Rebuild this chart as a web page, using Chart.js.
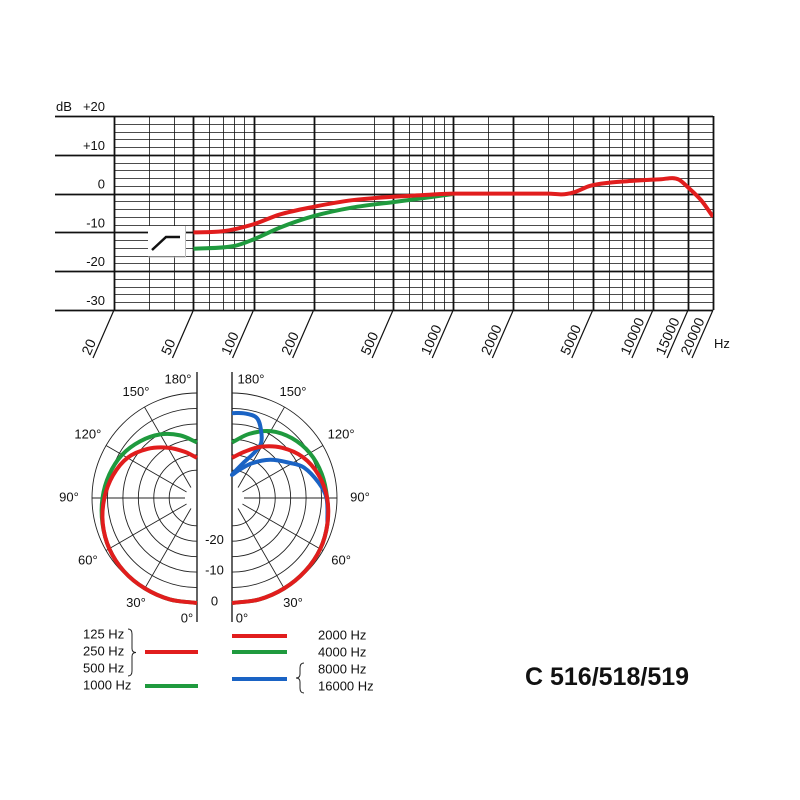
<!DOCTYPE html>
<html>
<head>
<meta charset="utf-8">
<script src="https://cdn.jsdelivr.net/npm/chart.js@4"></script>
<style>
  html, body { margin: 0; padding: 0; background: #fff; }
  #wrap { position: relative; width: 800px; height: 800px; }
  canvas { position: absolute; left: 0; }
</style>
</head>
<body>
<div id="wrap">
  <canvas id="freq" width="800" height="370" style="top:0"></canvas>
  <canvas id="polar" width="800" height="440" style="top:360px"></canvas>
</div>
<script>
// frequency response
const redHz = [50, 70, 100, 135, 200, 312, 500, 700, 1000, 2000, 3000, 3500, 4000, 4850, 6000, 8000, 10000, 11000, 12500, 13500, 15000, 17500, 20000];
const redDb = [-10, -9.7, -7.9, -5.4, -3.4, -1.7, -0.8, -0.4, 0, 0, 0, -0.2, 0.3, 2, 2.8, 3.3, 3.6, 3.7, 4, 3.6, 1.6, -1.8, -6];
const greenHz = [50, 80, 100, 135, 200, 312, 500, 700, 1000];
const greenDb = [-14.2, -13.5, -11.8, -8.8, -5.8, -3.6, -2.2, -1.2, -0.1];
const gridHz = [20, 30, 40, 50, 60, 70, 80, 90, 100, 200, 400, 500, 600, 700, 800, 900, 1000, 1500, 2000, 3000, 4000, 5000, 6000, 7000, 8000, 9000, 10000, 15000, 20000];
const labelHz = [20, 50, 100, 200, 500, 1000, 2000, 5000, 10000, 15000, 20000];
const dbTicks = ["+20", "+10", "0", "-10", "-20", "-30"];

// polar diagrams (angle from front, dB)
const polarDeg = [0, 15, 30, 45, 60, 75, 90, 105, 120, 135, 150, 165, 180];
const low125to500 = [0, 0, -0.2, -0.5, -1.2, -2.4, -4, -5.8, -8, -11.5, -15.2, -18.5, -21];
const low1000 = [0, 0, -0.2, -0.5, -1.2, -2.3, -3.4, -4.6, -6, -8, -10.2, -13, -16];
const high2000 = [0, 0, -0.2, -0.5, -1, -2, -3.2, -5, -7.5, -11, -14.8, -18.5, -21];
const high4000 = [0, 0, -0.2, -0.5, -1, -2, -3.2, -3.9, -4.9, -6.6, -9, -12.5, -16];
const blueDeg = [75, 90, 100, 113, 121, 135, 150, 165, 180, 162, 154, 152, 157, 163, 172, 180];
const blueDb = [-2, -3.4, -5.5, -8.7, -12, -16.5, -21, -24.5, -26.5, -22, -17.8, -14, -10, -6.8, -6.3, -6.5];
const ringDb = [0, -5, -10, -15, -20, -25];
const spokeDeg = [30, 60, 90, 120, 150];

const RED = "#e11d1d", GREEN = "#1f9a3e", BLUE = "#1a63c4";
const FONT = "13px 'Liberation Sans', Arial, sans-serif";

function pts(xs, ys) { return xs.map((x, i) => ({ x, y: ys[i] })); }

const freqGrid = {
  id: "freqGrid",
  beforeDatasetsDraw(chart) {
    const { ctx, chartArea: a, scales: { x, y } } = chart;
    ctx.save();
    ctx.strokeStyle = "#111";
    for (let db = -30; db <= 20; db += 2) {
      const py = Math.round(y.getPixelForValue(db)) + 0.5;
      const major = db % 10 === 0;
      ctx.lineWidth = major ? 1.8 : 0.8;
      ctx.beginPath(); ctx.moveTo(major ? 55 : a.left, py); ctx.lineTo(a.right, py); ctx.stroke();
    }
    gridHz.forEach(f => {
      const px = Math.round(x.getPixelForValue(f)) + 0.5;
      ctx.lineWidth = labelHz.includes(f) ? 1.8 : 0.8;
      ctx.beginPath(); ctx.moveTo(px, a.top); ctx.lineTo(px, a.bottom); ctx.stroke();
    });
    // y labels
    ctx.fillStyle = "#111"; ctx.font = FONT; ctx.textAlign = "right"; ctx.textBaseline = "alphabetic";
    dbTicks.forEach(t => ctx.fillText(t, 105, y.getPixelForValue(Number(t)) - 5));
    ctx.textAlign = "left"; ctx.fillText("dB", 56, y.getPixelForValue(20) - 5);
    // slanted frequency labels
    ctx.font = "14px 'Liberation Sans', Arial, sans-serif";
    labelHz.forEach(f => {
      const px = x.getPixelForValue(f);
      ctx.lineWidth = 1.2;
      ctx.beginPath(); ctx.moveTo(px, a.bottom); ctx.lineTo(px - 21, a.bottom + 48); ctx.stroke();
      ctx.save();
      ctx.translate(px - 24, a.bottom + 46);
      ctx.rotate(-66 * Math.PI / 180);
      ctx.textAlign = "left";
      ctx.fillText(String(f), 0, 0);
      ctx.restore();
    });
    ctx.font = FONT;
    ctx.textAlign = "left"; ctx.fillText("Hz", 714, a.bottom + 38);
    // high-pass symbol
    ctx.fillStyle = "#fff"; ctx.fillRect(148, 226, 37, 30);
    ctx.strokeStyle = "#bbb"; ctx.lineWidth = 1;
    ctx.beginPath(); ctx.moveTo(185.5, 226); ctx.lineTo(185.5, 257); ctx.lineTo(148, 257); ctx.stroke();
    ctx.strokeStyle = "#111"; ctx.lineWidth = 2.5;
    ctx.beginPath(); ctx.moveTo(152, 250); ctx.lineTo(166, 237); ctx.lineTo(180, 237); ctx.stroke();
    ctx.restore();
  }
};

new Chart(document.getElementById("freq"), {
  type: "scatter",
  data: {
    datasets: [
      { data: pts(redHz, redDb), borderColor: RED, showLine: true, pointRadius: 0, borderWidth: 4, tension: 0.4, cubicInterpolationMode: "monotone" },
      { data: pts(greenHz, greenDb), borderColor: GREEN, showLine: true, pointRadius: 0, borderWidth: 4, tension: 0.4, cubicInterpolationMode: "monotone" }
    ]
  },
  options: {
    responsive: false, animation: false, devicePixelRatio: 2,
    layout: { padding: { left: 114, right: 87, top: 116, bottom: 60 } },
    plugins: { legend: { display: false }, tooltip: { enabled: false } },
    scales: {
      x: { type: "logarithmic", min: 20, max: 20000, display: false },
      y: { type: "linear", min: -30, max: 20, display: false }
    }
  },
  plugins: [freqGrid]
});

// polar: radius unit = dB + 34, right half shifted by GAP
const GAP = 35 / 3.088;
function polarPts(degs, dbs, right) {
  return degs.map((d, i) => {
    const r = dbs[i] + 34, t = d * Math.PI / 180;
    return { x: right ? GAP + r * Math.sin(t) : -r * Math.sin(t), y: -r * Math.cos(t) };
  });
}

const polarGrid = {
  id: "polarGrid",
  beforeDatasetsDraw(chart) {
    const { ctx, scales: { x, y } } = chart;
    const k = x.getPixelForValue(1) - x.getPixelForValue(0);
    const cy = y.getPixelForValue(0);
    ctx.save();
    ctx.strokeStyle = "#222"; ctx.lineWidth = 0.9;
    [false, true].forEach(right => {
      const cx = x.getPixelForValue(right ? GAP : 0);
      const s = right ? 1 : -1;
      ringDb.forEach(db => {
        ctx.beginPath();
        if (right) ctx.arc(cx, cy, (db + 34) * k, -Math.PI / 2, Math.PI / 2);
        else ctx.arc(cx, cy, (db + 34) * k, Math.PI / 2, 3 * Math.PI / 2);
        ctx.stroke();
      });
      spokeDeg.forEach(d => {
        const t = d * Math.PI / 180;
        ctx.beginPath();
        ctx.moveTo(cx + s * 12 * Math.sin(t), cy + 12 * Math.cos(t));
        ctx.lineTo(cx + s * 34 * k * Math.sin(t), cy + 34 * k * Math.cos(t));
        ctx.stroke();
      });
      ctx.fillStyle = "#fff";
      ctx.beginPath(); ctx.arc(cx, cy, 12, 0, 2 * Math.PI); ctx.fill();
      ctx.lineWidth = 1.4;
      ctx.beginPath(); ctx.moveTo(cx, 12); ctx.lineTo(cx, 262); ctx.stroke();
      ctx.lineWidth = 0.9;
      // angle labels
      ctx.fillStyle = "#111"; ctx.font = FONT; ctx.textAlign = "center"; ctx.textBaseline = "middle";
      [[180, 118], [150, 122], [120, 126], [90, 128], [60, 126], [30, 122], [0, 121]].forEach(([d, r]) => {
        const t = d * Math.PI / 180;
        let lx = cx + s * r * Math.sin(t);
        if (d === 180 || d === 0) lx = cx + s * (d === 0 ? 10 : 19);
        ctx.fillText(d + "\u00b0", lx, cy + r * Math.cos(t));
      });
    });
    // dB labels between halves
    const mid = (x.getPixelForValue(0) + x.getPixelForValue(GAP)) / 2;
    ctx.textAlign = "center";
    [-20, -10, 0].forEach(db => ctx.fillText(String(db), mid, cy + (db + 34) * k - 1));
    // legend
    ctx.textAlign = "left";
    [["125 Hz", 275], ["250 Hz", 292], ["500 Hz", 309], ["1000 Hz", 326]].forEach(([t, py]) => ctx.fillText(t, 83, py));
    [["2000 Hz", 276], ["4000 Hz", 293], ["8000 Hz", 310], ["16000 Hz", 327]].forEach(([t, py]) => ctx.fillText(t, 318, py));
    ctx.lineWidth = 4;
    [[145, 198, 292, RED], [145, 198, 326, GREEN], [232, 287, 276, RED], [232, 287, 292, GREEN], [232, 287, 319, BLUE]].forEach(([x0, x1, py, c]) => {
      ctx.strokeStyle = c; ctx.beginPath(); ctx.moveTo(x0, py); ctx.lineTo(x1, py); ctx.stroke();
    });
    // braces
    ctx.strokeStyle = "#222"; ctx.lineWidth = 1;
    const brace = (bx, y0, y1, dir) => {
      const m = (y0 + y1) / 2;
      ctx.beginPath();
      ctx.moveTo(bx - dir * 4, y0);
      ctx.quadraticCurveTo(bx, y0, bx, y0 + 5);
      ctx.lineTo(bx, m - 4);
      ctx.quadraticCurveTo(bx, m, bx + dir * 4, m);
      ctx.quadraticCurveTo(bx, m, bx, m + 4);
      ctx.lineTo(bx, y1 - 5);
      ctx.quadraticCurveTo(bx, y1, bx - dir * 4, y1);
      ctx.stroke();
    };
    brace(132, 269, 316, 1);
    brace(300, 303, 333, -1);
    // model name
    ctx.fillStyle = "#111"; ctx.font = "bold 25px 'Liberation Sans', Arial, sans-serif";
    ctx.textAlign = "left";
    ctx.fillText("C 516/518/519", 525, 318);
    ctx.restore();
  }
};

const curve = (data, color) => ({ data, borderColor: color, showLine: true, pointRadius: 0, borderWidth: 4, tension: 0.35 });

// first dataset is drawn on top
new Chart(document.getElementById("polar"), {
  type: "scatter",
  data: {
    datasets: [
      curve(polarPts(polarDeg, low125to500, false), RED),
      curve(polarPts(polarDeg, low1000, false), GREEN),
      curve(polarPts(polarDeg, high2000, true), RED),
      curve(polarPts(blueDeg, blueDb, true), BLUE),
      curve(polarPts(polarDeg, high4000, true), GREEN)
    ]
  },
  options: {
    responsive: false, animation: false, devicePixelRatio: 2,
    layout: { padding: 0 },
    plugins: { legend: { display: false }, tooltip: { enabled: false } },
    scales: {
      x: { type: "linear", min: -197 / 3.088, max: (800 - 197) / 3.088, display: false },
      y: { type: "linear", min: -(440 - 138) / 3.088, max: 138 / 3.088, display: false }
    }
  },
  plugins: [polarGrid]
});
</script>
</body>
</html>
